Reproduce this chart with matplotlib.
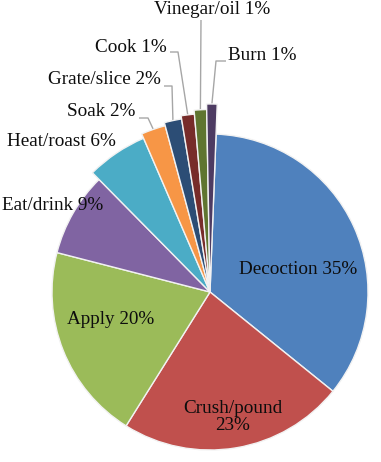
import matplotlib
matplotlib.use('Agg')
import matplotlib.pyplot as plt
import numpy as np

categories = ['Decoction', 'Crush/pound', 'Apply', 'Eat/drink', 'Heat/roast',
              'Soak', 'Grate/slice', 'Cook', 'Vinegar/oil', 'Burn']
values = [35.2, 23.1, 20.1, 8.6, 5.9, 2.3, 1.6, 1.2, 1.1, 0.9]
colors = ['#4F81BD', '#C0504D', '#9BBB59', '#8064A2', '#4BACC6',
          '#F79646', '#2C4D75', '#772C2A', '#5F7530', '#4D3B62']
# per-slice radius (style: small slices pulled outward)
radii = [1.0, 1.0, 1.0, 1.0, 1.06, 1.09, 1.11, 1.13, 1.155, 1.19]

W, H = 381, 462
CX, CY, R = 210, 292, 158

fig = plt.figure(figsize=(W / 100, H / 100), dpi=100)
ax = fig.add_axes([0, 0, 1, 1])

def P(x, y):
    return ((x - CX) / R, (CY - y) / R)

wedges, _ = ax.pie(values, colors=colors, startangle=87.8, counterclock=False,
                   radius=1,
                   wedgeprops=dict(edgecolor='#f2f2f2', linewidth=1.0))
for w, r in zip(wedges, radii):
    w.set_radius(r)
ax.set_xlim(-CX / R, (W - CX) / R)
ax.set_ylim((CY - H) / R, CY / R)
ax.set_aspect('equal')
ax.axis('off')

labels = [f"{c} {round(v)}%" for c, v in zip(categories, values)]
font = dict(family=['Liberation Serif', 'DejaVu Serif'], fontsize=13.8, color='#0d0d0d')

ax.text(*P(298, 270), labels[0], ha='center', va='center', **font)
ax.text(*P(233, 417), f"{categories[1]}\n{round(values[1])}%", ha='center', va='center',
        linespacing=1.0, **font)
ax.text(*P(111, 320), labels[2], ha='center', va='center', **font)
ax.text(*P(53, 205), labels[3], ha='center', va='center', **font)
ax.text(*P(61, 142), labels[4], ha='center', va='center', **font)

outside = {
    5: dict(pos=(101, 112), path=[(139, 118), (148, 118)]),
    6: dict(pos=(104, 80), path=[(164, 86), (172, 86)]),
    7: dict(pos=(131, 47), path=[(170, 52), (178, 52)]),
    8: dict(pos=(212, 10), path=[(201, 20)]),
    9: dict(pos=(262, 55), path=[(226, 61), (216, 61)]),
}
for i, spec in outside.items():
    ax.text(*P(*spec['pos']), labels[i], ha='center', va='center', **font)
    w = wedges[i]
    th = np.deg2rad((w.theta1 + w.theta2) / 2)
    ax_, ay_ = w.center[0] + w.r * np.cos(th), w.center[1] + w.r * np.sin(th)
    pts = [P(*p) for p in spec['path']] + [(ax_, ay_)]
    xs, ys = zip(*pts)
    ax.plot(xs, ys, color='#a6a6a6', lw=1.0, solid_capstyle='butt', zorder=0.5)

fig.savefig('out.png', dpi=100)
